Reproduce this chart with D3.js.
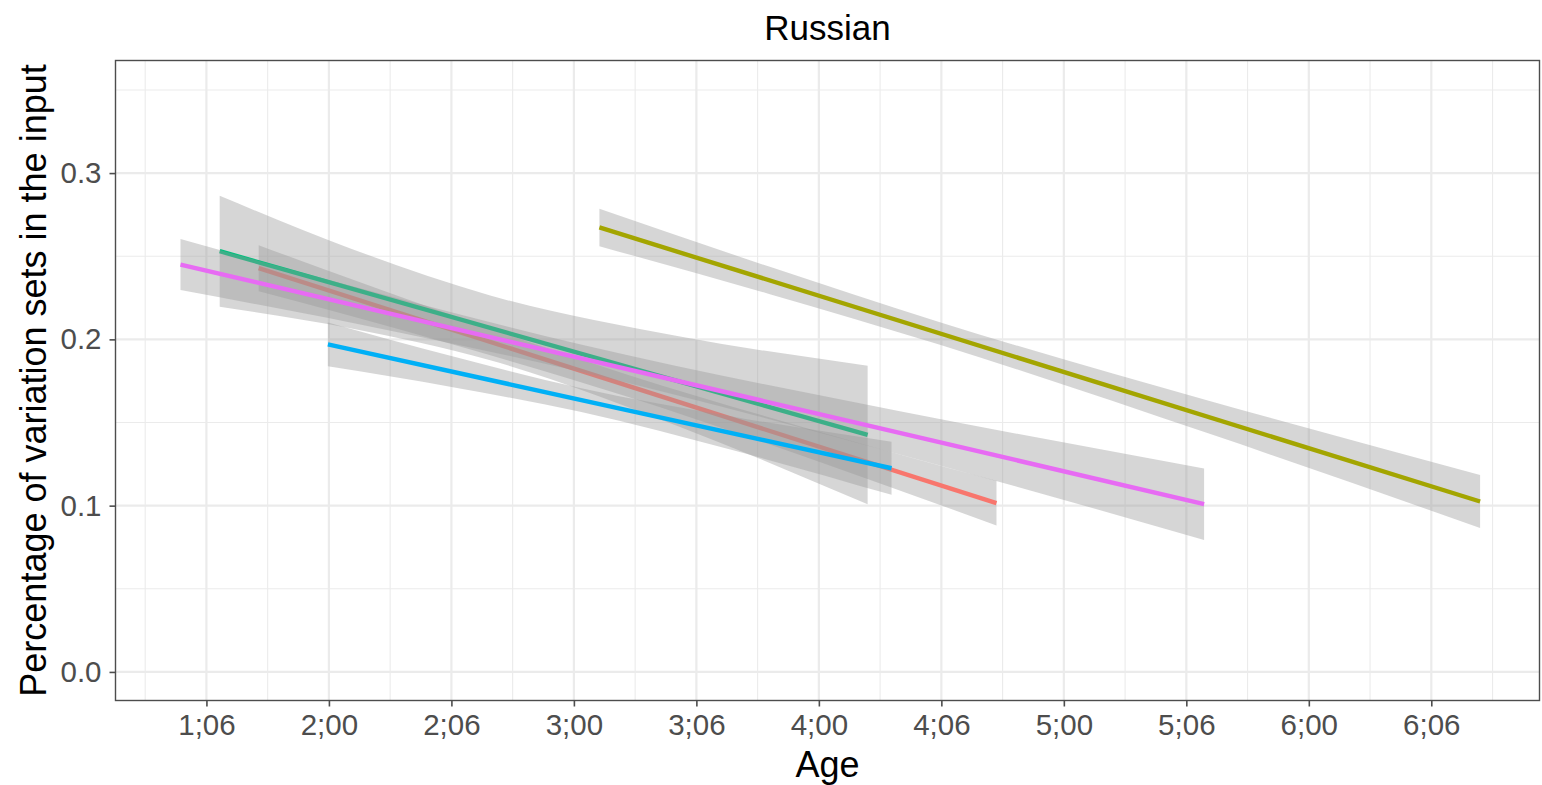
<!DOCTYPE html>
<html>
<head>
<meta charset="utf-8">
<script src="https://cdn.jsdelivr.net/npm/d3@7"></script>
<style>
  html, body { margin: 0; padding: 0; background: #ffffff; }
  svg { display: block; font-family: "Liberation Sans", Arial, Helvetica, sans-serif; }
</style>
</head>
<body>
<svg id="chart" width="1542" height="785"></svg>
<script>
// Age in months; fitted linear trends per group with their confidence bands.
const groupNames = ["g1", "g2", "g3", "g4", "g5"];
const groupColors = ["#F8766D", "#A3A500", "#00BF7D", "#00B0F6", "#E76BF3"];

// Fitted line end points: [startAge, startValue, endAge, endValue]
const fitRed   = [20.56, 0.2428, 56.70, 0.1015];
const fitOlive = [37.25, 0.2673, 80.39, 0.1025];
const fitGreen = [18.65, 0.2530, 50.39, 0.1425];
const fitBlue  = [23.95, 0.1970, 51.56, 0.1225];
const fitPink  = [16.73, 0.2450, 66.87, 0.1009];

// Confidence band edges at several ages
const bandAgesRed   = [20.56, 29.60, 38.63, 47.66, 56.70];
const bandLowRed    = [0.2290, 0.1986, 0.1655, 0.1279, 0.0881];
const bandHighRed   = [0.2566, 0.2164, 0.1787, 0.1457, 0.1149];

const bandAgesOlive = [37.25, 45.60, 53.89, 67.14, 80.39];
const bandLowOlive  = [0.2560, 0.2272, 0.1969, 0.1432, 0.0866];
const bandHighOlive = [0.2786, 0.2436, 0.2105, 0.1630, 0.1184];

const bandAgesGreen = [18.65, 25.05, 31.90, 41.20, 50.39];
const bandLowGreen  = [0.2196, 0.2067, 0.1874, 0.1473, 0.1008];
const bandHighGreen = [0.2864, 0.2547, 0.2264, 0.2017, 0.1842];

const bandAgesBlue  = [23.95, 30.14, 36.31, 43.94, 51.56];
const bandLowBlue   = [0.1838, 0.1711, 0.1564, 0.1328, 0.1065];
const bandHighBlue  = [0.2102, 0.1895, 0.1708, 0.1532, 0.1385];

const bandAgesPink  = [16.73, 27.50, 36.50, 51.97, 66.87];
const bandLowPink   = [0.2297, 0.2040, 0.1800, 0.1308, 0.0794];
const bandHighPink  = [0.2603, 0.2242, 0.1964, 0.1568, 0.1224];

// Axis ticks
const xMajorTicks = [18, 24, 30, 36, 42, 48, 54, 60, 66, 72, 78];
const xMinorTicks = [15, 21, 27, 33, 39, 45, 51, 57, 63, 69, 75, 81];
const yMajorTicks = [0.0, 0.1, 0.2, 0.3];
const yMinorTicks = [0.05, 0.15, 0.25, 0.35];

const titleText = "Russian";
const xTitle = "Age";
const yTitle = "Percentage of variation sets in the input";

const groups = [
  { fit: fitRed,   ages: bandAgesRed,   lo: bandLowRed,   hi: bandHighRed },
  { fit: fitOlive, ages: bandAgesOlive, lo: bandLowOlive, hi: bandHighOlive },
  { fit: fitGreen, ages: bandAgesGreen, lo: bandLowGreen, hi: bandHighGreen },
  { fit: fitBlue,  ages: bandAgesBlue,  lo: bandLowBlue,  hi: bandHighBlue },
  { fit: fitPink,  ages: bandAgesPink,  lo: bandLowPink,  hi: bandHighPink }
].map((g, i) => Object.assign(g, { name: groupNames[i], color: groupColors[i] }));

const panel = { left: 115.5, right: 1539.5, top: 60.5, bottom: 700.5 };

const x = d3.scaleLinear()
  .domain([13.546, 83.30])
  .range([panel.left, panel.right]);
const y = d3.scaleLinear()
  .domain([-0.01718, 0.3677])
  .range([panel.bottom, panel.top]);

const svg = d3.select("#chart");

// Panel background
svg.append("rect")
  .attr("x", panel.left).attr("y", panel.top)
  .attr("width", panel.right - panel.left).attr("height", panel.bottom - panel.top)
  .attr("fill", "#ffffff");

const grid = svg.append("g");
grid.selectAll(".xminor").data(xMinorTicks).join("line")
  .attr("x1", d => x(d)).attr("x2", d => x(d))
  .attr("y1", panel.top).attr("y2", panel.bottom)
  .attr("stroke", "#ebebeb").attr("stroke-width", 1.1);
grid.selectAll(".yminor").data(yMinorTicks).join("line")
  .attr("y1", d => y(d)).attr("y2", d => y(d))
  .attr("x1", panel.left).attr("x2", panel.right)
  .attr("stroke", "#ebebeb").attr("stroke-width", 1.1);
grid.selectAll(".xmajor").data(xMajorTicks).join("line")
  .attr("x1", d => x(d)).attr("x2", d => x(d))
  .attr("y1", panel.top).attr("y2", panel.bottom)
  .attr("stroke", "#ebebeb").attr("stroke-width", 2.2);
grid.selectAll(".ymajor").data(yMajorTicks).join("line")
  .attr("y1", d => y(d)).attr("y2", d => y(d))
  .attr("x1", panel.left).attr("x2", panel.right)
  .attr("stroke", "#ebebeb").attr("stroke-width", 2.2);

// Bands and trend lines, drawn group by group
const area = d3.area()
  .x(d => x(d.age)).y0(d => y(d.lo)).y1(d => y(d.hi))
  .curve(d3.curveMonotoneX);
const line = d3.line().x(d => x(d[0])).y(d => y(d[1]));

const marks = svg.append("g");
groups.forEach(g => {
  const pts = g.ages.map((a, i) => ({ age: a, lo: g.lo[i], hi: g.hi[i] }));
  marks.append("path")
    .attr("d", area(pts))
    .attr("fill", "#999999")
    .attr("fill-opacity", 0.4);
  marks.append("path")
    .attr("d", line([[g.fit[0], g.fit[1]], [g.fit[2], g.fit[3]]]))
    .attr("fill", "none")
    .attr("stroke", g.color)
    .attr("stroke-width", 4.4);
});

// Panel border
svg.append("rect")
  .attr("x", panel.left).attr("y", panel.top)
  .attr("width", panel.right - panel.left).attr("height", panel.bottom - panel.top)
  .attr("fill", "none").attr("stroke", "#4d4d4d").attr("stroke-width", 1.4);

const fmtAge = m => `${Math.floor(m / 12)};${String(m % 12).padStart(2, "0")}`;

// X axis
const xAxis = svg.append("g")
  .attr("transform", `translate(0,${panel.bottom})`)
  .call(d3.axisBottom(x).tickValues(xMajorTicks).tickFormat(fmtAge).tickSize(6).tickPadding(8));
xAxis.select(".domain").remove();
xAxis.selectAll(".tick line").attr("stroke", "#4d4d4d").attr("stroke-width", 1.6);
xAxis.selectAll(".tick text")
  .attr("fill", "#4d4d4d")
  .attr("font-size", 29.5)
  .attr("font-family", "'Liberation Sans', Arial, sans-serif");

// Y axis
const yAxis = svg.append("g")
  .attr("transform", `translate(${panel.left},0)`)
  .call(d3.axisLeft(y).tickValues(yMajorTicks).tickFormat(d3.format(".1f")).tickSize(6).tickPadding(8));
yAxis.select(".domain").remove();
yAxis.selectAll(".tick line").attr("stroke", "#4d4d4d").attr("stroke-width", 1.6);
yAxis.selectAll(".tick text")
  .attr("fill", "#4d4d4d")
  .attr("font-size", 29.5)
  .attr("font-family", "'Liberation Sans', Arial, sans-serif");

// Titles
svg.append("text")
  .attr("x", (panel.left + panel.right) / 2).attr("y", 40)
  .attr("text-anchor", "middle")
  .attr("font-size", 35).attr("fill", "#000000")
  .text(titleText);

svg.append("text")
  .attr("x", (panel.left + panel.right) / 2).attr("y", 777)
  .attr("text-anchor", "middle")
  .attr("font-size", 36).attr("fill", "#000000")
  .text(xTitle);

svg.append("text")
  .attr("transform", `translate(46,${(panel.top + panel.bottom) / 2}) rotate(-90)`)
  .attr("text-anchor", "middle")
  .attr("font-size", 36).attr("fill", "#000000")
  .text(yTitle);
</script>
</body>
</html>
